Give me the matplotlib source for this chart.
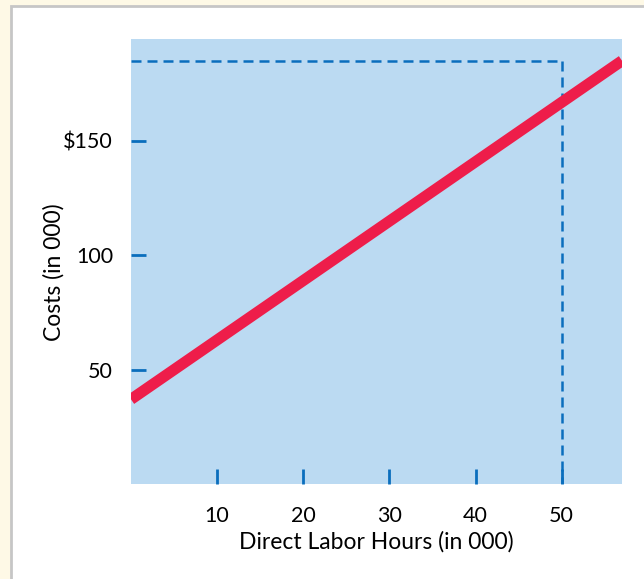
import matplotlib
matplotlib.use("Agg")
import matplotlib.pyplot as plt
from matplotlib.patches import Rectangle

# Data
x_ticks = [10, 20, 30, 40, 50]
x_tick_labels = ["10", "20", "30", "40", "50"]
y_ticks = [50, 100, 150]
y_tick_labels = ["50", "100", "$150"]
cost_hours = [0, 57]
cost_values = [37, 185]
ref_hours = 50
ref_cost = 185

plt.rcParams['font.family'] = ['Lato', 'DejaVu Sans']

W, H = 644, 579
fig = plt.figure(figsize=(W / 100, H / 100), dpi=100)
fig.patch.set_facecolor('#FEF9E6')

# white panel with gray border
panel = Rectangle((11 / W, -0.01), 1.0, (H - 6) / H + 0.01, transform=fig.transFigure,
                  facecolor='white', edgecolor='#C6C6C6', linewidth=2, zorder=-10)
fig.patches.append(panel)

ax = fig.add_axes([131 / W, (H - 484) / H, (622 - 131) / W, (484 - 39) / H])
ax.set_zorder(5)
ax.set_facecolor('#BBDAF2')
for s in ax.spines.values():
    s.set_visible(False)

ax.set_xlim(0, 57)
ax.set_ylim(0, 194.5)

blue = '#0A6EBD'
ax.plot(cost_hours, cost_values, color='#EE1D4A', linewidth=8, solid_capstyle='butt', zorder=3)
ax.plot([0, ref_hours], [ref_cost, ref_cost], color=blue, linewidth=1.8,
        linestyle=(0, (4, 2.4)), zorder=2)
ax.plot([ref_hours, ref_hours], [ref_cost, 0], color=blue, linewidth=1.8,
        linestyle=(0, (4, 2.4)), zorder=2)

ax.set_xticks(x_ticks)
ax.set_xticklabels(x_tick_labels)
ax.set_yticks(y_ticks)
ax.set_yticklabels(y_tick_labels)
ax.tick_params(axis='both', direction='in', length=11, width=2, color=blue,
               labelsize=15.5, labelcolor='black')
ax.tick_params(axis='x', pad=16)
ax.tick_params(axis='y', pad=13)

ax.set_xlabel('Direct Labor Hours (in 000)', fontsize=16.5, labelpad=0)
ax.set_ylabel('Costs (in 000)', fontsize=16.5)
ax.yaxis.set_label_coords(-0.136, 0.476)
ax.xaxis.set_label_coords(0.5, -0.105)

fig.savefig('out.png', dpi=100, facecolor=fig.get_facecolor())
